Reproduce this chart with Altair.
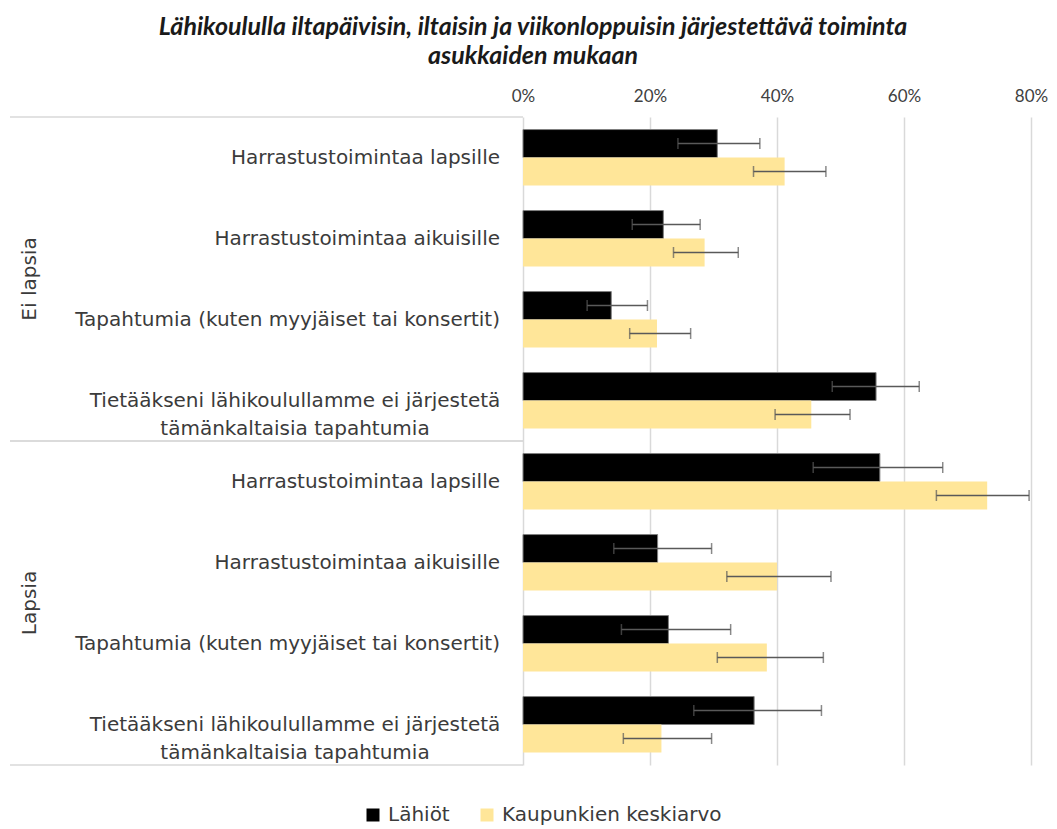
import altair as alt
import pandas as pd

TITLE = ["Lähikoululla iltapäivisin, iltaisin ja viikonloppuisin järjestettävä toiminta",
         "asukkaiden mukaan"]
groups = ["Ei lapsia", "Lapsia"]
categories = ["Harrastustoimintaa lapsille",
              "Harrastustoimintaa aikuisille",
              "Tapahtumia (kuten myyjäiset tai konsertit)",
              "Tietääkseni lähikoulullamme ei järjestetä|tämänkaltaisia tapahtumia"]
series = ["Lähiöt", "Kaupunkien keskiarvo"]
colors = ["#000000", "#FFE699"]

lahiot = [30.6, 22.1, 13.9, 55.6, 56.2, 21.2, 22.9, 36.4]
lahiot_lo = [24.4, 17.2, 10.1, 48.7, 45.7, 14.3, 15.5, 26.9]
lahiot_hi = [37.3, 27.9, 19.6, 62.4, 66.1, 29.7, 32.7, 47.0]
keskiarvo = [41.2, 28.6, 21.1, 45.4, 73.1, 40.0, 38.4, 21.8]
keskiarvo_lo = [36.3, 23.7, 16.8, 39.7, 65.1, 32.1, 30.6, 15.8]
keskiarvo_hi = [47.7, 33.9, 26.4, 51.5, 79.7, 48.5, 47.3, 29.7]
x_ticks = [0, 20, 40, 60, 80]

# ---- build long table ----
recs = []
row_ids = []
k = 0
for g in groups:
    for c in categories:
        rid = f"r{k}"
        row_ids.append(rid)
        recs.append(dict(row=rid, group=g, category=c, series=series[0],
                         value=lahiot[k], lo=lahiot_lo[k], hi=lahiot_hi[k]))
        recs.append(dict(row=rid, group=g, category=c, series=series[1],
                         value=keskiarvo[k], lo=keskiarvo_lo[k], hi=keskiarvo_hi[k]))
        k += 1
df = pd.DataFrame(recs)
gdf = pd.DataFrame({"group": groups})

W, H = 508, 648
LABEL_FONT = "DejaVu Sans"
LABEL_SIZE = 20
TEXT_COLOR = "#3b3b3b"
LINE_COLOR = "#d9d9d9"

yrow = alt.Y("row:N", sort=row_ids, axis=None,
             scale=alt.Scale(paddingInner=0.31, paddingOuter=0.155))
yoff = alt.YOffset("series:N", sort=series,
                   scale=alt.Scale(domain=series, paddingInner=0, paddingOuter=0))
xenc = alt.X("value:Q",
             scale=alt.Scale(domain=[0, 80], nice=False),
             axis=alt.Axis(orient="top", values=x_ticks, labelExpr="datum.value + '%'",
                           title=None, ticks=False, domain=False, grid=True,
                           gridColor=LINE_COLOR, gridWidth=1.5, labelPadding=12,
                           labelFlush=False,
                           labelFont="Lato", labelFontSize=17, labelColor="#404040"))

bars = alt.Chart(df).mark_bar(strokeWidth=1).encode(
    x=xenc,
    y=yrow,
    yOffset=yoff,
    color=alt.Color("series:N", sort=series,
                    scale=alt.Scale(domain=series, range=colors),
                    legend=alt.Legend(orient="none", legendX=-160, legendY=688,
                                      direction="horizontal", title=None,
                                      symbolType="square", symbolSize=169,
                                      symbolStrokeWidth=0, labelFont=LABEL_FONT,
                                      labelFontSize=LABEL_SIZE, labelColor=TEXT_COLOR,
                                      labelLimit=0,
                                      columnPadding=27, labelOffset=5, padding=0)),
    stroke=alt.condition(alt.datum.series == series[0], alt.value("#7f7f7f"),
                         alt.value("transparent")),
)

err = alt.Chart(df).mark_rule(color="#595959", strokeWidth=1.5).encode(
    x=alt.X("lo:Q"), x2="hi:Q", y=yrow, yOffset=yoff)
cap_lo = alt.Chart(df).mark_tick(color="#595959", thickness=1.5, size=11).encode(
    x=alt.X("lo:Q"), y=yrow, yOffset=yoff)
cap_hi = alt.Chart(df).mark_tick(color="#595959", thickness=1.5, size=11).encode(
    x=alt.X("hi:Q"), y=yrow, yOffset=yoff)

lab_single = alt.Chart(df).transform_filter(
    (alt.datum.series == series[0])
).transform_filter("indexof(datum.category, '|') < 0").mark_text(
    align="right", baseline="middle", font=LABEL_FONT, fontSize=LABEL_SIZE,
    color=TEXT_COLOR).encode(
    x=alt.value(-23), y=yrow, text="category:N")

lab_multi = alt.Chart(df).transform_filter(
    (alt.datum.series == series[0])
).transform_filter("indexof(datum.category, '|') >= 0").transform_calculate(
    lines="split(datum.category, '|')"
).mark_text(
    align="center", baseline="middle", font=LABEL_FONT, fontSize=LABEL_SIZE,
    lineHeight=28, color=TEXT_COLOR).encode(
    x=alt.value(-228), y=yrow, text="lines:N")

main = alt.layer(bars, err, cap_lo, cap_hi, lab_single, lab_multi)

ygrp = dict(sort=groups, axis=None, scale=alt.Scale(paddingInner=0, paddingOuter=0))
grp_lab = alt.Chart(gdf).mark_text(
    angle=270, align="center", baseline="middle", font=LABEL_FONT,
    fontSize=LABEL_SIZE, color=TEXT_COLOR).encode(
    x=alt.value(-493), y=alt.Y("group:N", **ygrp), text="group:N")
sep_top = alt.Chart(gdf).mark_rule(color=LINE_COLOR, strokeWidth=1.5).encode(
    x=alt.value(-513), x2=alt.value(0),
    y=alt.Y("group:N", bandPosition=0, **ygrp))
sep_bot = alt.Chart(gdf).mark_rule(color=LINE_COLOR, strokeWidth=1.5).encode(
    x=alt.value(-513), x2=alt.value(0),
    y=alt.Y("group:N", bandPosition=1, **ygrp))
deco = alt.layer(grp_lab, sep_top, sep_bot)

chart = alt.layer(main, deco).resolve_scale(y="independent").properties(
    width=W, height=H,
    title=alt.TitleParams(text=TITLE, font="Lato", fontSize=25, fontWeight="bold",
                          fontStyle="italic", color="#1a1a1a", anchor="middle",
                          frame="group", dx=-244, offset=18, lineHeight=29),
    autosize=alt.AutoSizeParams(type="none"),
    padding={"left": 515, "top": 109, "right": 18, "bottom": 60},
).configure_view(stroke=None)

chart.save("out.html", embed_options={"renderer": "svg", "actions": False})
